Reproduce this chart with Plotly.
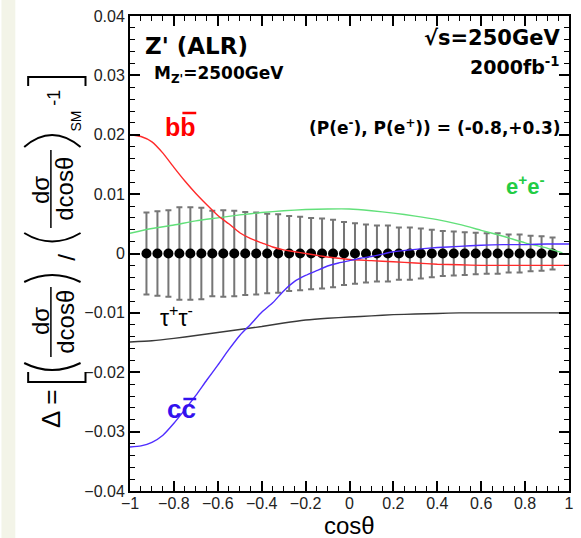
import plotly.graph_objects as go

# ---------------- data ----------------
cos_points = [-0.925, -0.875, -0.825, -0.775, -0.725, -0.675, -0.625, -0.575, -0.525, -0.475,
              -0.425, -0.375, -0.325, -0.275, -0.225, -0.175, -0.125, -0.075, -0.025,
              0.025, 0.075, 0.125, 0.175, 0.225, 0.275, 0.325, 0.375, 0.425, 0.475,
              0.525, 0.575, 0.625, 0.675, 0.725, 0.775, 0.825, 0.875, 0.925]
delta_points = [0.0, 0.0, 0.0, 0.0, 0.0, 0.0, 0.0, 0.0, 0.0, 0.0,
                0.0, 0.0, 0.0, 0.0, 0.0, 0.0, 0.0, 0.0, 0.0,
                0.0, 0.0, 0.0, 0.0, 0.0, 0.0, 0.0, 0.0, 0.0, 0.0,
                0.0, 0.0, 0.0, 0.0, 0.0, 0.0, 0.0, 0.0, 0.0]
delta_errors = [0.0069, 0.0071, 0.0073, 0.0078, 0.0078, 0.0077, 0.0072, 0.0073, 0.0072, 0.0070,
                0.0069, 0.0067, 0.0066, 0.0063, 0.0062, 0.0060, 0.0059, 0.0057, 0.0053,
                0.0051, 0.0049, 0.0047, 0.0047, 0.0044, 0.0044, 0.0042, 0.0040, 0.0038, 0.0037,
                0.0036, 0.0035, 0.0034, 0.0034, 0.0032, 0.0032, 0.0030, 0.0029, 0.0027]

bb_cos = [-1.0, -0.95, -0.9, -0.85, -0.8, -0.75, -0.7, -0.65, -0.6, -0.55, -0.5, -0.45, -0.4,
          -0.35, -0.3, -0.25, -0.2, -0.1, 0.0, 0.1, 0.2, 0.3, 0.4, 0.5, 0.6, 0.7, 0.8, 0.9, 1.0]
bb_delta = [0.0200, 0.0197, 0.0188, 0.0169, 0.0145, 0.0122, 0.0101, 0.0082, 0.0064, 0.0050,
            0.0035, 0.0025, 0.0018, 0.0011, 0.0006, 0.0003, 0.0000, -0.0006, -0.0010, -0.0012,
            -0.0014, -0.0016, -0.0018, -0.0019, -0.0020, -0.0020, -0.0020, -0.0020, -0.0020]

ee_cos = [-1.0, -0.9, -0.8, -0.7, -0.6, -0.5, -0.4, -0.3, -0.2, -0.1, 0.0,
          0.1, 0.2, 0.3, 0.4, 0.5, 0.6, 0.7, 0.8, 0.9, 0.97]
ee_delta = [0.0034, 0.0042, 0.0048, 0.0055, 0.0060, 0.0065, 0.0069, 0.0072, 0.0074, 0.0075, 0.0075,
            0.0072, 0.0068, 0.0063, 0.0057, 0.0049, 0.0039, 0.0029, 0.0018, 0.0009, 0.0001]

cc_cos = [-1.0, -0.95, -0.9, -0.85, -0.8, -0.75, -0.7, -0.65, -0.6, -0.55, -0.5, -0.45, -0.4,
          -0.35, -0.3, -0.25, -0.2, -0.15, -0.1, -0.05, 0.0, 0.05, 0.1, 0.15, 0.2, 0.3, 0.4,
          0.5, 0.6, 0.7, 0.8, 0.9, 1.0]
cc_delta = [-0.0326, -0.0324, -0.0318, -0.0306, -0.0286, -0.0263, -0.0239, -0.0213, -0.0188,
            -0.0162, -0.0138, -0.0119, -0.0099, -0.0083, -0.0063, -0.0047, -0.0037, -0.0029,
            -0.0021, -0.0016, -0.0012, -0.0008, -0.0005, -0.0001, 0.0003, 0.0007, 0.0010,
            0.0012, 0.0014, 0.0015, 0.0015, 0.0016, 0.0016]

tautau_cos = [-1.0, -0.9, -0.8, -0.7, -0.6, -0.5, -0.4, -0.3, -0.2, -0.1, 0.0,
              0.1, 0.2, 0.3, 0.4, 0.5, 0.6, 0.7, 0.8, 0.9, 1.0]
tautau_delta = [-0.0149, -0.0147, -0.0143, -0.0138, -0.0133, -0.0128, -0.0123, -0.0117, -0.0112,
                -0.0109, -0.0107, -0.0105, -0.0103, -0.0102, -0.0101, -0.0100, -0.0100, -0.0100,
                -0.0100, -0.0100, -0.0100]

x_tick_vals = [-1, -0.8, -0.6, -0.4, -0.2, 0, 0.2, 0.4, 0.6, 0.8, 1]
y_tick_vals = [-0.04, -0.03, -0.02, -0.01, 0, 0.01, 0.02, 0.03, 0.04]

# ---------------- layout helpers (pixel -> paper) ----------------
W, H = 581, 538
L, R, T, B = 130, 7, 16, 47
PW, PH = W - L - R, H - T - B


def px(X):
    return (X - L) / PW


def py(Y):
    return (H - B - Y) / PH


SANS = "Liberation Sans, Arial, Helvetica, sans-serif"
BOLD = "DejaVu Sans, Liberation Sans, Arial, sans-serif"

fig = go.Figure()

fig.add_trace(go.Scatter(
    x=cos_points, y=delta_points, mode="markers",
    marker=dict(color="black", size=10),
    error_y=dict(type="data", array=delta_errors, color="#767676", thickness=2, width=3),
    showlegend=False, hoverinfo="skip"))

line_specs = [
    (tautau_cos, tautau_delta, "#3a3a3a"),
    (ee_cos, ee_delta, "#62e07a"),
    (bb_cos, bb_delta, "#ff2a2a"),
    (cc_cos, cc_delta, "#4f2dff"),
]
for xs, ys, col in line_specs:
    fig.add_trace(go.Scatter(x=xs, y=ys, mode="lines",
                             line=dict(color=col, width=1.4, shape="spline", smoothing=0.6),
                             showlegend=False, hoverinfo="skip"))

annotations = []


def ann(text, X, Y, size, color="black", family=SANS, xanchor="center", yanchor="middle", angle=0, pad=1):
    annotations.append(dict(text=text, x=px(X), y=py(Y), xref="paper", yref="paper",
                            xanchor=xanchor, yanchor=yanchor, showarrow=False, textangle=angle,
                            borderpad=pad, font=dict(family=family, size=size, color=color)))


# in-plot labels
ann("<b>Z' (ALR)</b>", 143, 46, 23, family=BOLD, xanchor="left")
ann("<b>M<sub>Z'</sub>=2500GeV</b>", 152, 75, 17, family=BOLD, xanchor="left")
ann("<b>√s=250GeV</b>", 567, 38, 21, family=BOLD, xanchor="right")
ann("<b>2000fb<sup>-1</sup></b>", 567, 66, 19, family=BOLD, xanchor="right")
ann("<b>(P(e<sup>-</sup>), P(e<sup>+</sup>)) = (-0.8,+0.3)</b>", 568, 127, 17, family=BOLD, xanchor="right")
ann("<b>bb</b>", 181, 127, 25, color="#ff0000")
ann("<b>e<sup>+</sup>e<sup>-</sup></b>", 530, 185, 22, color="#22cc44")
ann("τ<sup>+</sup>τ<sup>-</sup>", 177, 316, 23)
ann("<b>cc</b>", 182, 409, 26, color="#3311ee")

# x title
ann("cosθ", 352, 525.5, 24, pad=0)

# y title pieces (rotated)
ann("Δ =", 50, 409, 26, angle=-90)
ann("dσ", 39, 321, 24, angle=-90)
ann("dcosθ", 64, 322, 24, angle=-90)
ann("/", 65, 257, 24, angle=-90)
ann("dσ", 39, 190, 24, angle=-90)
ann("dcosθ", 64, 189, 24, angle=-90)
ann("SM", 75, 121, 14, angle=-90)
ann("-1", 53, 98, 18, angle=-90)

shapes = []


def path_shape(pts_cmd, color="black", width=2):
    shapes.append(dict(type="path", path=pts_cmd, xref="paper", yref="paper",
                       line=dict(color=color, width=width)))


def P(X, Y):
    return f"{px(X):.5f},{py(Y):.5f}"


# background strip at left edge
shapes.append(dict(type="rect", xref="paper", yref="paper", x0=px(0), x1=px(14), y0=py(H), y1=py(0),
                   fillcolor="#f3f4e8", line=dict(width=0), layer="below"))
# brackets
path_shape(f"M {P(27,372)} L {P(27,382)} L {P(85,382)} L {P(85,372)}")
path_shape(f"M {P(27,86)} L {P(27,77)} L {P(85,77)} L {P(85,86)}")
# parentheses
path_shape(f"M {P(23,363)} Q {P(51,377)} {P(80,363)}")
path_shape(f"M {P(23,282)} Q {P(51,268)} {P(80,282)}")
path_shape(f"M {P(23,233)} Q {P(51,250)} {P(80,233)}")
path_shape(f"M {P(23,147)} Q {P(51,123)} {P(80,147)}")
# fraction bars
path_shape(f"M {P(50,287)} L {P(50,357)}", width=1.5)
path_shape(f"M {P(50,150)} L {P(50,228)}", width=1.5)
# overlines on antiquarks
path_shape(f"M {P(183,113)} L {P(197,113)}", color="#ff0000", width=2.5)
path_shape(f"M {P(184,399)} L {P(197,399)}", color="#3311ee", width=2.5)

axis_common = dict(showgrid=False, zeroline=False, showline=True, linecolor="black", linewidth=2,
                   mirror="allticks", ticks="inside", ticklen=10, tickwidth=1.5, tickcolor="black",
                   tickfont=dict(family=SANS, size=16, color="#222222"))

fig.update_layout(
    width=W, height=H,
    margin=dict(l=L, r=R, t=T, b=B),
    paper_bgcolor="white", plot_bgcolor="white",
    xaxis=dict(range=[-1, 1], tickvals=x_tick_vals, ticklabelstandoff=-3,
               minor=dict(ticks="inside", dtick=0.05, ticklen=5, tickwidth=1.2, tickcolor="black"),
               **axis_common),
    yaxis=dict(range=[-0.04, 0.04], tickvals=y_tick_vals,
               minor=dict(ticks="inside", dtick=0.002, ticklen=5, tickwidth=1.2, tickcolor="black"),
               **axis_common),
    annotations=annotations,
    shapes=shapes,
)

fig.write_html("out.html", config={"displayModeBar": False},
               post_script="document.body.style.margin='0';")
